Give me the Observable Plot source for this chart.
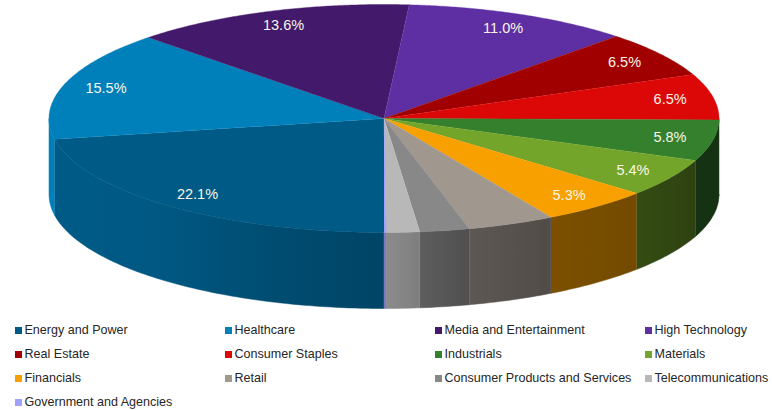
<!DOCTYPE html>
<html>
<head>
<meta charset="utf-8">
<title>Deal share by sector</title>
<script src="https://cdn.jsdelivr.net/npm/d3@7"></script>
<script src="https://cdn.jsdelivr.net/npm/@observablehq/plot@0.6"></script>
<style>
  html, body { margin: 0; padding: 0; background: #fff; }
  #chart svg { display: block; }
  #legend {
    display: grid;
    grid-template-columns: repeat(4, 210px);
    grid-auto-rows: 24px;
    padding-left: 15px;
    font: 12.55px "Liberation Sans", Arial, sans-serif;
    color: #262626;
    white-space: nowrap;
  }
  #legend div { display: flex; align-items: center; }
  #legend i { width: 7px; height: 7px; margin-right: 2.5px; flex: none; }
</style>
</head>
<body>
<div id="chart"></div>
<div id="legend"></div>
<script>
const sectors = ["Energy and Power", "Healthcare", "Media and Entertainment", "High Technology",
  "Real Estate", "Consumer Staples", "Industrials", "Materials", "Financials", "Retail",
  "Consumer Products and Services", "Telecommunications", "Government and Agencies"];
const shares = [22.1, 15.5, 13.6, 11.0, 6.5, 6.5, 5.8, 5.4, 5.3, 4.2, 2.4, 1.6, 0.1];
const palette = ["#005a86", "#0080bb", "#431a6b", "#5e2fa3", "#a00000", "#dc0808", "#35802c",
  "#72a52a", "#f8a000", "#a0978f", "#888888", "#b8b8b8", "#a0a0ff"];

// Only slices at or above this share carry a percentage label.
const labelFloor = 5;
// Rim height, in units of the disc's vertical radius.
const rimDepth = 0.667;
// How far along the radius each percentage sits.
const labelRadius = 0.87;

// The rim is lit from the left: brightness by screen angle (degrees clockwise from 3 o'clock).
const rimLight = d3.scaleLinear()
  .domain([0, 22, 41, 60, 75, 90, 110, 130, 150, 180])
  .range([0.4, 0.4, 0.46, 0.5, 0.58, 0.76, 0.85, 0.97, 1, 1])
  .clamp(true);

// Slices run clockwise from 6 o'clock; d3.pie measures from 12 o'clock, so convert.
const arcs = d3.pie().sort(null).value((d, i) => shares[i])
  .startAngle(Math.PI).endAngle(3 * Math.PI)(sectors);
const toDegrees = a => (a * 180) / Math.PI - 90;
const slices = arcs.map((a, i) => ({
  sector: sectors[i],
  share: shares[i],
  color: palette[i],
  from: toDegrees(a.startAngle),
  to: toDegrees(a.endAngle)
}));

const rad = d => (d * Math.PI) / 180;
const onRim = (deg, r = 1, drop = 0) => ({x: r * Math.cos(rad(deg)), y: r * Math.sin(rad(deg)) + drop});

function steps(from, to, size) {
  const n = Math.max(1, Math.ceil((to - from) / size));
  return d3.range(n + 1).map(k => from + ((to - from) * k) / n);
}

// Top face of every slice: centre point followed by its arc.
const topFaces = slices.flatMap(s =>
  [{x: 0, y: 0}, ...steps(s.from, s.to, 0.5).map(d => onRim(d))].map(p => ({...p, sector: s.sector}))
);

// Front rim: one band per slice on the visible half of the disc, each with its own horizontal gradient.
const defs = d3.create("svg:defs");
const rimBands = [];
slices.forEach((s, i) => {
  for (const turn of [0, 360]) {
    const from = Math.max(s.from - turn, 0);
    const to = Math.min(s.to - turn, 180);
    if (to <= from) continue;
    const edge = steps(from, to, 1);
    const id = `rim-${i}-${turn}`;
    const [xMin, xMax] = d3.extent(edge, d => Math.cos(rad(d)));
    const gradient = defs.append("linearGradient").attr("id", id);
    const base = d3.color(s.color);
    for (const d of edge.slice().reverse()) {
      const light = rimLight(d);
      gradient.append("stop")
        .attr("offset", (Math.cos(rad(d)) - xMin) / (xMax - xMin))
        .attr("stop-color", d3.rgb(base.r * light, base.g * light, base.b * light).formatHex());
    }
    const outline = [
      ...edge.map(d => onRim(d)),
      ...edge.slice().reverse().map(d => onRim(d, 1, rimDepth))
    ];
    for (const p of outline) rimBands.push({...p, id, paint: `url(#${id})`});
  }
});

const labels = slices.filter(s => s.share >= labelFloor).map(s => ({
  ...onRim((s.from + s.to) / 2, labelRadius),
  text: `${s.share.toFixed(1)}%`
}));

const chart = Plot.plot({
  width: 772,
  height: 318,
  margin: 0,
  style: {background: "#fff", fontFamily: '"Liberation Sans", Arial, sans-serif'},
  x: {domain: [-1, 1], range: [48.5, 718.5], axis: null},
  y: {domain: [-1, 1 + rimDepth], range: [4, 308], axis: null},
  color: {domain: sectors, range: palette},
  marks: [
    () => defs.node(),
    Plot.line(rimBands, {
      x: "x", y: "y", z: "id",
      fill: {value: "paint", scale: null},
      stroke: {value: "paint", scale: null},
      strokeWidth: 0.5
    }),
    Plot.line(topFaces, {
      x: "x", y: "y", z: "sector",
      fill: "sector",
      stroke: "sector",
      strokeWidth: 0.4
    }),
    Plot.text(labels, {
      x: "x", y: "y", text: "text",
      fill: "#f8f6e6",
      fontSize: 14.5
    })
  ]
});
document.getElementById("chart").append(chart);

// Four-column key under the pie.
const legend = d3.select("#legend");
slices.forEach(s => {
  const row = legend.append("div");
  row.append("i").style("background", s.color);
  row.append("span").text(s.sector);
});
</script>
</body>
</html>
